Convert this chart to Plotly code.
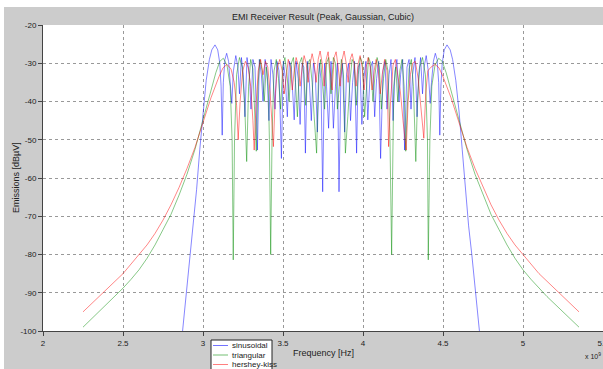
import plotly.graph_objects as go

# ---------------- data (frequency in GHz, level in dBuV) ----------------
sin_freq = [2.870, 2.900, 2.920, 2.940, 2.960, 2.980, 3.000, 3.020, 3.040, 3.055,
            3.075, 3.092, 3.105, 3.113, 3.120, 3.127, 3.137, 3.148, 3.160, 3.172,
            3.180, 3.190, 3.205, 3.218, 3.228, 3.240, 3.252, 3.262, 3.275, 3.290,
            3.300, 3.312, 3.325, 3.340, 3.352, 3.365, 3.375, 3.388, 3.400, 3.412,
            3.425, 3.437, 3.450, 3.462, 3.475, 3.490, 3.502, 3.515, 3.527, 3.540,
            3.552, 3.570, 3.582, 3.595, 3.607, 3.620, 3.630, 3.640, 3.652, 3.665,
            3.677, 3.690, 3.702, 3.715, 3.727, 3.737, 3.748, 3.760, 3.772, 3.785,
            3.800, 3.815, 3.828, 3.840, 3.850, 3.862, 3.872, 3.885, 3.897, 3.910,
            3.922, 3.935, 3.947, 3.960, 3.970, 3.980, 3.993, 4.005, 4.018, 4.030,
            4.047, 4.060, 4.073, 4.085, 4.098, 4.110, 4.125, 4.137, 4.150, 4.163,
            4.175, 4.188, 4.200, 4.212, 4.225, 4.235, 4.248, 4.260, 4.275, 4.288,
            4.300, 4.310, 4.325, 4.338, 4.348, 4.360, 4.372, 4.382, 4.395, 4.408,
            4.420, 4.428, 4.440, 4.452, 4.463, 4.473, 4.480, 4.487, 4.495, 4.508,
            4.525, 4.545, 4.560, 4.580, 4.600, 4.620, 4.640, 4.660, 4.680, 4.700,
            4.730]
sin_db = [-101, -88, -80, -72.5, -63, -52.5, -42.5, -34.5, -29, -26.5,
          -25.2, -26.5, -30, -36, -48.8, -35, -29, -27.4, -29.5, -35,
          -40.5, -32, -28, -31, -38, -28.5, -33, -44, -28.5, -33,
          -42, -29, -31, -52.7, -29, -33, -40, -29, -32, -45,
          -29, -33, -42, -29.5, -32, -54.9, -29.5, -34, -44, -29.5,
          -31, -44.8, -29.5, -34, -46, -30, -31, -53.5, -29.5, -35,
          -45, -30, -33, -48, -30, -34, -63.6, -30, -36, -47,
          -29.5, -47, -36, -30, -63.6, -34, -30, -48, -33, -30,
          -45, -35, -29.5, -53.5, -31, -30, -46, -34, -29.5, -44.8,
          -31, -29.5, -44, -34, -29.5, -54.9, -32, -29.5, -42, -33,
          -29, -45, -32, -29, -40, -33, -29, -52.7, -31, -29,
          -42, -33, -28.5, -44, -33, -28.5, -38, -31, -28, -32,
          -40.5, -35, -29.5, -27.4, -29, -35, -48.8, -36, -30, -26.5,
          -25.2, -26.5, -29, -34.5, -42.5, -52.5, -63, -72.5, -80, -88,
          -101]

tri_freq = [2.250, 2.300, 2.350, 2.400, 2.450, 2.500, 2.550, 2.600, 2.650, 2.700,
            2.750, 2.800, 2.850, 2.900, 2.950, 3.000, 3.050, 3.080, 3.105, 3.127,
            3.150, 3.170, 3.182, 3.189, 3.197, 3.210, 3.228, 3.245, 3.260, 3.273,
            3.285, 3.298, 3.312, 3.325, 3.333, 3.343, 3.356, 3.370, 3.383, 3.395,
            3.408, 3.415, 3.423, 3.432, 3.444, 3.458, 3.472, 3.485, 3.498, 3.512,
            3.525, 3.538, 3.552, 3.565, 3.578, 3.590, 3.603, 3.617, 3.630, 3.642,
            3.655, 3.668, 3.682, 3.695, 3.710, 3.722, 3.735, 3.748, 3.760, 3.772,
            3.785, 3.800, 3.815, 3.828, 3.840, 3.852, 3.865, 3.878, 3.890, 3.905,
            3.918, 3.932, 3.945, 3.958, 3.970, 3.983, 3.997, 4.010, 4.023, 4.035,
            4.048, 4.062, 4.075, 4.088, 4.102, 4.115, 4.128, 4.142, 4.156, 4.168,
            4.179, 4.186, 4.192, 4.205, 4.217, 4.230, 4.244, 4.257, 4.267, 4.275,
            4.288, 4.302, 4.315, 4.330, 4.340, 4.355, 4.372, 4.390, 4.403, 4.408,
            4.418, 4.430, 4.450, 4.473, 4.495, 4.520, 4.550, 4.600, 4.650, 4.700,
            4.750, 4.800, 4.850, 4.900, 4.950, 5.000, 5.050, 5.100, 5.150, 5.200,
            5.250, 5.300, 5.350]
tri_db = [-99.0, -97.0, -95.0, -93.0, -91.0, -88.8, -86.5, -84.0, -81.0, -77.5,
          -73.5, -69.5, -64.5, -59.0, -52.5, -45.0, -37.0, -32.5, -29.5, -28.7,
          -30.5, -36, -50, -81.4, -50, -33, -28.5, -31, -40, -55.7,
          -36, -29, -31.5, -43, -53, -36, -29, -32, -40, -31,
          -36, -50, -80, -48, -32, -29, -34, -42, -31, -28.5,
          -33, -40, -30, -28.5, -35, -44, -30, -28.5, -33, -41,
          -30, -29, -35, -44, -53.5, -33, -29, -36, -42, -30,
          -28.5, -38, -28.5, -30, -42, -36, -29, -33, -53.5, -44,
          -35, -29, -30, -41, -33, -28.5, -30, -44, -35, -28.5,
          -30, -40, -33, -28.5, -31, -42, -34, -29, -32, -48,
          -80, -50, -36, -31, -40, -32, -29, -36, -53, -43,
          -31.5, -29, -36, -55.7, -40, -31, -28.5, -33, -50, -81.4,
          -50, -36, -30.5, -28.7, -29.5, -32.5, -37, -45, -52.5, -59,
          -64.5, -69.5, -73.5, -77.5, -81, -84, -86.5, -88.8, -91, -93,
          -95, -97, -99]

hk_freq = [2.250, 2.300, 2.350, 2.400, 2.450, 2.500, 2.550, 2.600, 2.650, 2.700,
           2.750, 2.800, 2.850, 2.900, 2.950, 3.000, 3.050, 3.100, 3.125, 3.150,
           3.175, 3.195, 3.210, 3.220, 3.232, 3.248, 3.265, 3.282, 3.298, 3.312,
           3.320, 3.330, 3.345, 3.360, 3.375, 3.390, 3.405, 3.420, 3.440, 3.452,
           3.465, 3.480, 3.495, 3.508, 3.520, 3.533, 3.546, 3.558, 3.570, 3.582,
           3.595, 3.607, 3.620, 3.632, 3.645, 3.657, 3.670, 3.682, 3.695, 3.707,
           3.720, 3.732, 3.745, 3.757, 3.770, 3.782, 3.795, 3.807, 3.820, 3.832,
           3.845, 3.857, 3.870, 3.882, 3.895, 3.907, 3.920, 3.932, 3.945, 3.957,
           3.970, 3.982, 3.995, 4.007, 4.020, 4.032, 4.045, 4.057, 4.070, 4.082,
           4.095, 4.108, 4.120, 4.135, 4.150, 4.160, 4.172, 4.188, 4.202, 4.218,
           4.235, 4.250, 4.270, 4.282, 4.296, 4.310, 4.327, 4.345, 4.362, 4.380,
           4.392, 4.405, 4.425, 4.450, 4.475, 4.500, 4.550, 4.600, 4.650, 4.700,
           4.750, 4.800, 4.850, 4.900, 4.950, 5.000, 5.050, 5.100, 5.150, 5.200,
           5.250, 5.300, 5.350]
hk_db = [-95.0, -93.0, -91.0, -89.0, -87.0, -85.0, -82.5, -80.0, -77.5, -74.5,
         -71.0, -67.0, -62.5, -57.5, -52.0, -45.5, -39.0, -33.5, -31.2, -30.3,
         -31.5, -35, -41, -50, -40, -32, -29.5, -31, -36, -45,
         -52.7, -42, -32, -29, -33, -29.5, -31, -38, -51.8, -38,
         -31, -29, -32, -38, -33, -29, -31, -37, -32, -28.5,
         -30.5, -36, -31, -28, -30, -35, -30, -27.5, -30, -35,
         -29, -26.8, -30, -36, -29, -27, -32, -37, -28.5, -27,
         -31, -36, -29, -26.8, -30, -35, -29, -27.5, -30, -36,
         -30, -28, -31, -37, -31, -28.5, -31, -37, -32, -29,
         -31.5, -38, -33, -29, -32, -51.8, -40, -30.5, -29, -33,
         -38, -45, -52.7, -40, -33, -30, -29.5, -34, -42, -49.6,
         -38, -32, -31, -30.3, -31.2, -33.5, -39, -45.5, -52, -57.5,
         -62.5, -67, -71, -74.5, -77.5, -80, -82.5, -85, -87, -89,
         -91, -93, -95]

series_names = ["sinusoidal", "triangular", "hershey-kiss"]
x_tick_vals = [2, 2.5, 3, 3.5, 4, 4.5, 5, 5.5]
x_tick_text = ["2", "2.5", "3", "3.5", "4", "4.5", "5", "5.5"]
y_tick_vals = [-100, -90, -80, -70, -60, -50, -40, -30, -20]
y_tick_text = ["-100", "-90", "-80", "-70", "-60", "-50", "-40", "-30", "-20"]

title_text = "EMI Receiver Result (Peak, Gaussian, Cubic)"
x_title = "Frequency [Hz]"
y_title = "Emissions [dB\u00b5V]"

# ---------------- layout geometry ----------------
W, H = 603, 369
L, R, T, B = 43, 0, 25, 38
PW, PH = W - L - R, H - T - B
FONT = "Arial, Liberation Sans, sans-serif"
BG = "#cccccc"


def px(x):
    return (x - L) / PW


def py(y):
    return (H - B - y) / PH


colors = ["rgba(0,0,255,0.6)", "rgba(0,140,0,0.6)", "rgba(255,0,0,0.6)"]

assert len(sin_freq) == len(sin_db)
assert len(tri_freq) == len(tri_db)
assert len(hk_freq) == len(hk_db)

fig = go.Figure()
for name, f, db, c in zip(series_names,
                          [sin_freq, tri_freq, hk_freq],
                          [sin_db, tri_db, hk_db], colors):
    fig.add_trace(go.Scatter(x=[v * 1e9 for v in f], y=db, mode="lines",
                             name=name, line=dict(color=c, width=0.8),
                             showlegend=False))

fig.update_layout(
    width=W, height=H,
    margin=dict(l=L, r=R, t=T, b=B, autoexpand=False),
    paper_bgcolor=BG, plot_bgcolor="white",
    font=dict(family=FONT, size=8, color="#222"),
    showlegend=False,
)
fig.update_xaxes(range=[2e9, 5.5e9], tickvals=[v * 1e9 for v in x_tick_vals],
                 ticktext=x_tick_text, ticks="outside", ticklen=4,
                 tickcolor="#444", showline=True, linecolor="#444",
                 linewidth=1, showgrid=True, gridcolor="#999",
                 griddash="dot", gridwidth=1, zeroline=False,
                 ticklabeloverflow="allow", tickfont=dict(size=8))
fig.update_yaxes(range=[-100, -20], tickvals=y_tick_vals, ticktext=y_tick_text,
                 ticks="outside", ticklen=4, tickcolor="#444", showline=True,
                 linecolor="#444", linewidth=1, showgrid=True, gridcolor="#999",
                 griddash="dot", gridwidth=1, zeroline=False,
                 tickfont=dict(size=8))

shapes = [
    # white strips around the grey figure area
    dict(type="rect", xref="paper", yref="paper", x0=px(0), x1=px(W),
         y0=py(7), y1=py(0), fillcolor="white", line=dict(width=0), layer="above"),
    dict(type="rect", xref="paper", yref="paper", x0=px(0), x1=px(4),
         y0=py(H), y1=py(0), fillcolor="white", line=dict(width=0), layer="above"),
    # legend box
    dict(type="rect", xref="paper", yref="paper", x0=px(211), x1=px(272),
         y0=py(H + 3), y1=py(340), fillcolor="white",
         line=dict(color="#222", width=1), layer="above"),
]
annotations = [
    dict(text=title_text, xref="paper", yref="paper", x=px(323), y=py(17),
         showarrow=False, font=dict(size=9, color="#222"), xanchor="center",
         yanchor="middle"),
    dict(text=x_title, xref="paper", yref="paper", x=px(323), y=py(353),
         showarrow=False, font=dict(size=9, color="#222"), xanchor="center",
         yanchor="middle"),
    dict(text=y_title, xref="paper", yref="paper", x=px(16), y=py(178),
         showarrow=False, textangle=-90, font=dict(size=9, color="#222"),
         xanchor="center", yanchor="middle"),
    dict(text="x 10<sup>9</sup>", xref="paper", yref="paper", x=px(603),
         y=py(356), showarrow=False, font=dict(size=7, color="#222"),
         xanchor="right", yanchor="middle"),
]
legend_colors = ["rgba(0,0,255,0.55)", "rgba(0,140,0,0.55)", "rgba(255,0,0,0.5)"]
for i, (name, c) in enumerate(zip(series_names, legend_colors)):
    yy = 345.5 + 9.5 * i
    shapes.append(dict(type="line", xref="paper", yref="paper", x0=px(213),
                       x1=px(228), y0=py(yy), y1=py(yy),
                       line=dict(color=c, width=1), layer="above"))
    annotations.append(dict(text=name, xref="paper", yref="paper", x=px(230),
                            y=py(yy), showarrow=False, xanchor="left",
                            yanchor="middle", font=dict(size=8, color="#222")))

fig.update_layout(shapes=shapes, annotations=annotations)
fig.write_html("out.html")
